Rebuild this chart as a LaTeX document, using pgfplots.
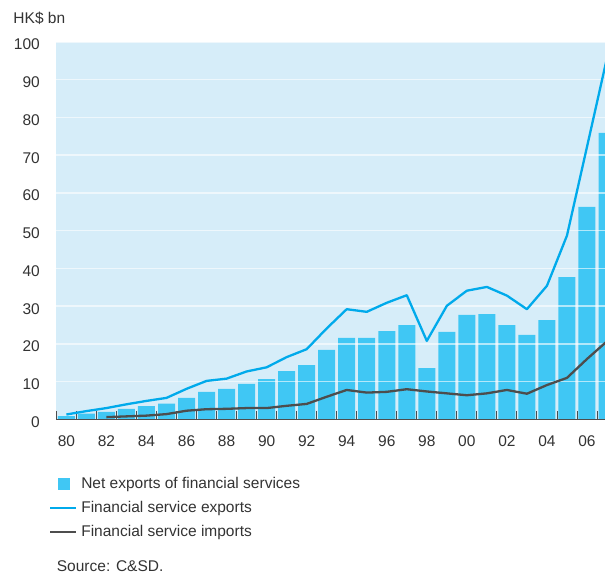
\documentclass[border=0pt]{standalone}
\usepackage{fontspec}
\setmainfont{Liberation Sans}
\usepackage{pgfplots}
\usepackage{pgfplotstable}
\pgfplotsset{compat=1.18}

\definecolor{bgblue}{RGB}{214,237,249}
\definecolor{barblue}{RGB}{64,199,244}
\definecolor{lineblue}{RGB}{0,170,235}
\definecolor{darkgrey}{RGB}{77,77,77}
\definecolor{textgrey}{RGB}{51,51,51}

\newcommand{\chartfont}{\fontsize{15.5}{18}\selectfont}

% year (two digits, 100 = 2000), net exports, exports, imports (HK$ bn)
\pgfplotstableread{
yr  net   exp   imp
80  0.9   1.3   nan
81  1.5   2.2   nan
82  2.0   3.0   0.6
83  2.8   4.0   0.8
84  3.5   4.9   1.0
85  4.2   5.7   1.4
86  5.7   8.1   2.3
87  7.3   10.2  2.7
88  8.1   10.8  2.8
89  9.4   12.7  3.0
90  10.7  13.8  3.0
91  12.8  16.5  3.6
92  14.4  18.6  4.1
93  18.4  24.1  6.0
94  21.6  29.2  7.8
95  21.6  28.5  7.1
96  23.4  30.9  7.3
97  25.0  32.9  8.0
98  13.6  20.8  7.4
99  23.2  30.1  6.9
100 27.7  34.1  6.4
101 27.9  35.1  6.9
102 25.0  32.8  7.8
103 22.4  29.2  6.8
104 26.3  35.4  9.1
105 37.7  48.7  11.0
106 56.3  72.2  16.0
107 75.9  95.8  20.7
}\finsvc

\begin{document}
\begin{tikzpicture}
\begin{axis}[
    at={(0pt,0pt)}, anchor=south west,
    scale only axis,
    width=549pt, height=377.4pt,
    set layers=axis on top,
    xmin=79.5, xmax=106.92,
    ymin=0, ymax=100,
    enlargelimits=false,
    axis background/.style={fill=bgblue},
    axis x line*=bottom,
    axis y line*=left,
    x axis line style={draw=darkgrey, line width=1.3pt},
    y axis line style={draw=none},
    xtick={80,82,...,106},
    xticklabels={80,82,84,86,88,90,92,94,96,98,00,02,04,06},
    minor xtick={79.5,80.5,...,106.5},
    major tick length=0pt,
    minor tick length=8pt,
    xtick align=inside,
    minor x tick style={draw=darkgrey, line width=0.9pt},
    ytick={0,10,...,100},
    major y tick style={draw=none},
    ymajorgrids=true,
    major grid style={white, line width=1.5pt, opacity=0.6},
    /pgf/number format/assume math mode=true,
    tick label style={font=\chartfont, text=textgrey},
    xticklabel style={inner sep=0pt, anchor=north, yshift=-15.6pt},
    yticklabel style={inner sep=0pt, anchor=east, xshift=-16.4pt, yshift=-2.5pt},
    ylabel={HK\$ bn},
    ylabel style={rotate=-90, at={(rel axis cs:0,1)}, anchor=base west,
        inner sep=0pt, xshift=-43.1pt, yshift=18.7pt, font=\chartfont, text=textgrey},
    legend cell align=left,
    legend style={at={(rel axis cs:0,0)}, anchor=north west,
        xshift=-7.4pt, yshift=-57.6pt,
        draw=none, fill=none, inner xsep=0pt, inner ysep=0pt,
        row sep=10pt, column sep=4.5pt,
        font=\chartfont, text=textgrey,
        nodes={inner sep=0pt, text height=11pt, text depth=3pt}},
]
\addplot[ybar, bar width=17pt, fill=barblue, draw=none,
    legend image code/.code={\fill[barblue] (7.6pt,-5.8pt) rectangle (19.3pt,5.8pt);}]
    table[x=yr, y=net] {\finsvc};
\addlegendentry{Net exports of financial services}
\addplot[on layer=axis foreground, lineblue, line width=2.3pt, line join=round,
    legend image code/.code={\draw[lineblue, line width=2.3pt] (0pt,0pt) -- (25.3pt,0pt);}]
    table[x=yr, y=exp] {\finsvc};
\addlegendentry{Financial service exports}
\addplot[on layer=axis foreground, darkgrey, line width=2.3pt, line join=round,
    legend image code/.code={\draw[darkgrey, line width=2.3pt] (0pt,0pt) -- (25.3pt,0pt);}]
    table[x=yr, y=imp] {\finsvc};
\addlegendentry{Financial service imports}
\end{axis}
\node[anchor=base west, inner sep=0pt, font=\chartfont, text=textgrey]
    at (0.3pt,-152.6pt) {Source: C\&SD.};
\pgfresetboundingbox
\useasboundingbox (-56.4pt,-155.6pt) rectangle (548.6pt,419.4pt);
\end{tikzpicture}
\end{document}
